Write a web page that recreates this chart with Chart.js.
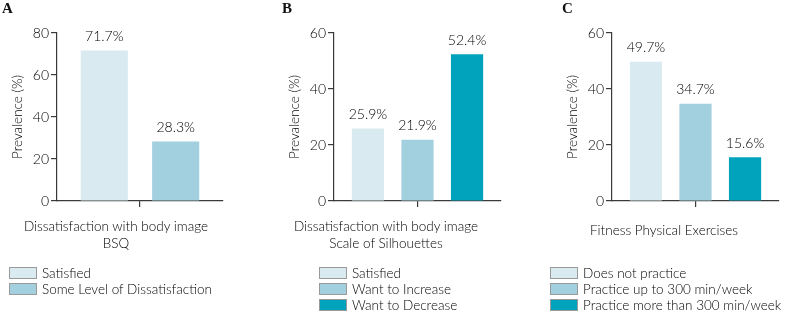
<!DOCTYPE html>
<html>
<head>
<meta charset="utf-8">
<script src="https://cdn.jsdelivr.net/npm/chart.js@4/dist/chart.umd.min.js"></script>
<style>
  body { margin: 0; background: #fff; }
  #wrap { position: relative; width: 785px; height: 316px; overflow: hidden; font-family: Lato, sans-serif; font-weight: 300; color: #000; }
  canvas { position: absolute; top: 0; }
  .letter { position: absolute; top: 0; font: bold 15px "Liberation Serif", serif; color: #111; }
  .xtitle { position: absolute; font-size: 13.5px; line-height: 17px; text-align: center; transform: translateX(-50%); white-space: nowrap; }
  .leg { position: absolute; font-size: 13.5px; line-height: 16px; white-space: nowrap; }
  .leg span.box { display: inline-block; width: 26px; height: 10px; border: 1px solid #9a9a9a; vertical-align: -1px; margin-right: 5px; }
</style>
</head>
<body>
<div id="wrap">
  <canvas id="chartA" width="260" height="316" style="left:0px"></canvas>
  <canvas id="chartB" width="260" height="316" style="left:260px"></canvas>
  <canvas id="chartC" width="265" height="316" style="left:520px"></canvas>
</div>
<script>
// ------------------------
// Data
// ------------------------
const colors = ['#d9eaf1', '#a2d0de', '#00a2bc'];

const seriesA = ['Satisfied', 'Some Level of Dissatisfaction'];
const valuesA = [71.7, 28.3];
const titleA = ['Dissatisfaction with body image', 'BSQ'];
const ticksA = [0, 20, 40, 60, 80];

const seriesB = ['Satisfied', 'Want to Increase', 'Want to Decrease'];
const valuesB = [25.9, 21.9, 52.4];
const titleB = ['Dissatisfaction with body image', 'Scale of Silhouettes'];
const ticksB = [0, 20, 40, 60];

const seriesC = ['Does not practice', 'Practice up to 300 min/week', 'Practice more than 300 min/week'];
const valuesC = [49.7, 34.7, 15.6];
const titleC = ['Fitness Physical Exercises'];
const ticksC = [0, 20, 40, 60];

const axisColor = '#3a3a3a';
const textColor = '#000';

// value labels over the bars
const valueLabels = {
  id: 'valueLabels',
  afterDatasetsDraw(chart) {
    const ctx = chart.ctx;
    ctx.save();
    ctx.font = '300 14px Lato';
    ctx.fillStyle = textColor;
    ctx.textAlign = 'center';
    ctx.textBaseline = 'middle';
    chart.data.datasets.forEach((ds, i) => {
      const bar = chart.getDatasetMeta(i).data[0];
      ctx.fillText(ds.data[0].toFixed(1) + '%', bar.x, bar.y - 14);
    });
    ctx.restore();
  }
};

function makeChart(id, series, values, ticks, cfg) {
  return new Chart(document.getElementById(id), {
    type: 'bar',
    data: {
      labels: [''],
      datasets: series.map((s, i) => ({
        label: s,
        data: [values[i]],
        backgroundColor: colors[i],
        barPercentage: cfg.barPct,
        categoryPercentage: cfg.catPct
      }))
    },
    options: {
      responsive: false,
      animation: false,
      layout: { padding: { left: cfg.padLeft, right: cfg.padRight, top: 33, bottom: 0 } },
      plugins: { legend: { display: false }, tooltip: { enabled: false } },
      scales: {
        x: {
          ticks: { display: false },
          grid: { offset: false, drawOnChartArea: false, tickLength: 6, color: axisColor, lineWidth: 1.2 },
          border: { color: axisColor, width: 1.2 },
          afterFit: s => { s.height = 115; }
        },
        y: {
          min: 0,
          max: ticks[ticks.length - 1],
          afterBuildTicks: s => { s.ticks = ticks.map(v => ({ value: v })); },
          ticks: { color: textColor, font: { family: 'Lato', size: 14, weight: 300 }, padding: 2 },
          grid: { drawOnChartArea: false, tickLength: 6, color: axisColor, lineWidth: 1.2 },
          border: { color: axisColor, width: 1.2 },
          title: { display: true, text: 'Prevalence (%)', color: textColor, font: { family: 'Lato', size: 13.5, weight: 300 }, padding: 0 },
          afterFit: s => { s.width = 47; }
        }
      }
    },
    plugins: [valueLabels]
  });
}

makeChart('chartA', seriesA, valuesA, ticksA, { padLeft: 10, padRight: 37, barPct: 0.66, catPct: 0.86 });
makeChart('chartB', seriesB, valuesB, ticksB, { padLeft: 27, padRight: 19, barPct: 0.65, catPct: 0.89 });
makeChart('chartC', seriesC, valuesC, ticksC, { padLeft: 45, padRight: 6, barPct: 0.65, catPct: 0.89 });

// ------------------------
// Letters, axis titles and legends
// ------------------------
const wrap = document.getElementById('wrap');

function addPanelText(letter, letterX, title, titleX, titleTop, series, legX) {
  const l = document.createElement('div');
  l.className = 'letter';
  l.style.left = letterX + 'px';
  l.textContent = letter;
  wrap.appendChild(l);

  const t = document.createElement('div');
  t.className = 'xtitle';
  t.style.left = titleX + 'px';
  t.style.top = titleTop + 'px';
  t.innerHTML = title.join('<br>');
  wrap.appendChild(t);

  const g = document.createElement('div');
  g.className = 'leg';
  g.style.left = legX + 'px';
  g.style.top = '265px';
  g.innerHTML = series.map((s, i) =>
    `<div><span class="box" style="background:${colors[i]}"></span>${s}</div>`).join('');
  wrap.appendChild(g);
}

addPanelText('A', 2, titleA, 116, 218, seriesA, 9);
addPanelText('B', 282, titleB, 386, 218, seriesB, 319);
addPanelText('C', 562, titleC, 664, 222, seriesC, 550);
</script>
</body>
</html>
